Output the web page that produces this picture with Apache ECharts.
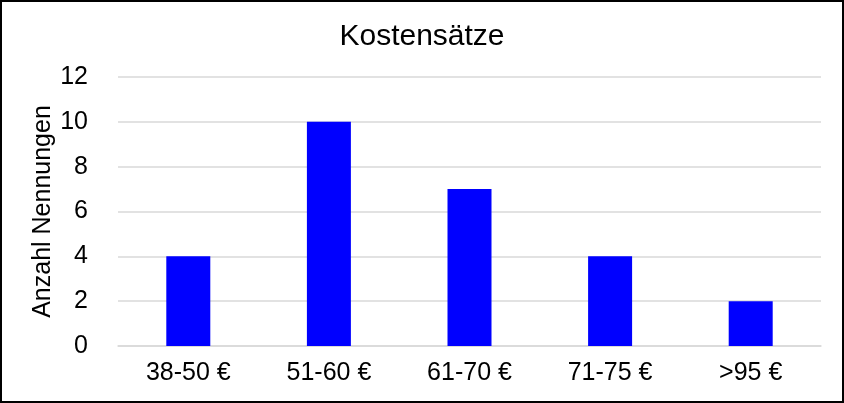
<!DOCTYPE html>
<html>
<head>
<meta charset="utf-8">
<script src="https://cdn.jsdelivr.net/npm/echarts@6/dist/echarts.min.js"></script>
<style>
html,body{margin:0;padding:0;background:#fff;}
#c{width:844px;height:403px;}
</style>
</head>
<body>
<div id="c"></div>
<script>
const categories = ['38-50 €', '51-60 €', '61-70 €', '71-75 €', '>95 €'];
const values = [4, 10, 7, 4, 2];
const titleText = 'Kostensätze';
const yAxisName = 'Anzahl Nennungen';
const yMin = 0, yMax = 12, yStep = 2;

const FONT = '"Liberation Sans", Arial, sans-serif';
const chart = echarts.init(document.getElementById('c'), null, {renderer: 'canvas'});
chart.setOption({
  animation: false,
  backgroundColor: '#fff',
  title: {
    text: titleText,
    left: 'center',
    top: 17,
    textStyle: {fontFamily: FONT, fontSize: 30, fontWeight: 'normal', color: '#000'}
  },
  grid: {left: 118, right: 23, top: 77, bottom: 57},
  xAxis: {
    type: 'category',
    data: categories,
    axisLine: {show: true, lineStyle: {color: '#d9d9d9', width: 1.5}},
    axisTick: {show: false},
    axisLabel: {fontFamily: FONT, fontSize: 25, color: '#000', margin: 15}
  },
  yAxis: {
    type: 'value',
    min: yMin, max: yMax, interval: yStep,
    name: yAxisName,
    nameLocation: 'middle',
    nameGap: 62,
    nameMoveOverlap: false,
    nameTextStyle: {fontFamily: FONT, fontSize: 25, color: '#000'},
    axisLine: {show: false},
    axisTick: {show: false},
    splitLine: {lineStyle: {color: '#d9d9d9', width: 1.5}},
    axisLabel: {fontFamily: FONT, fontSize: 25, color: '#000', margin: 30}
  },
  series: [{
    type: 'bar',
    data: values,
    barWidth: 44,
    itemStyle: {color: '#0000ff'}
  }],
  graphic: [{
    type: 'rect',
    shape: {x: 1, y: 1, width: 842, height: 401},
    style: {fill: 'none', stroke: '#000', lineWidth: 2},
    silent: true,
    z: 100
  }]
});
</script>
</body>
</html>
